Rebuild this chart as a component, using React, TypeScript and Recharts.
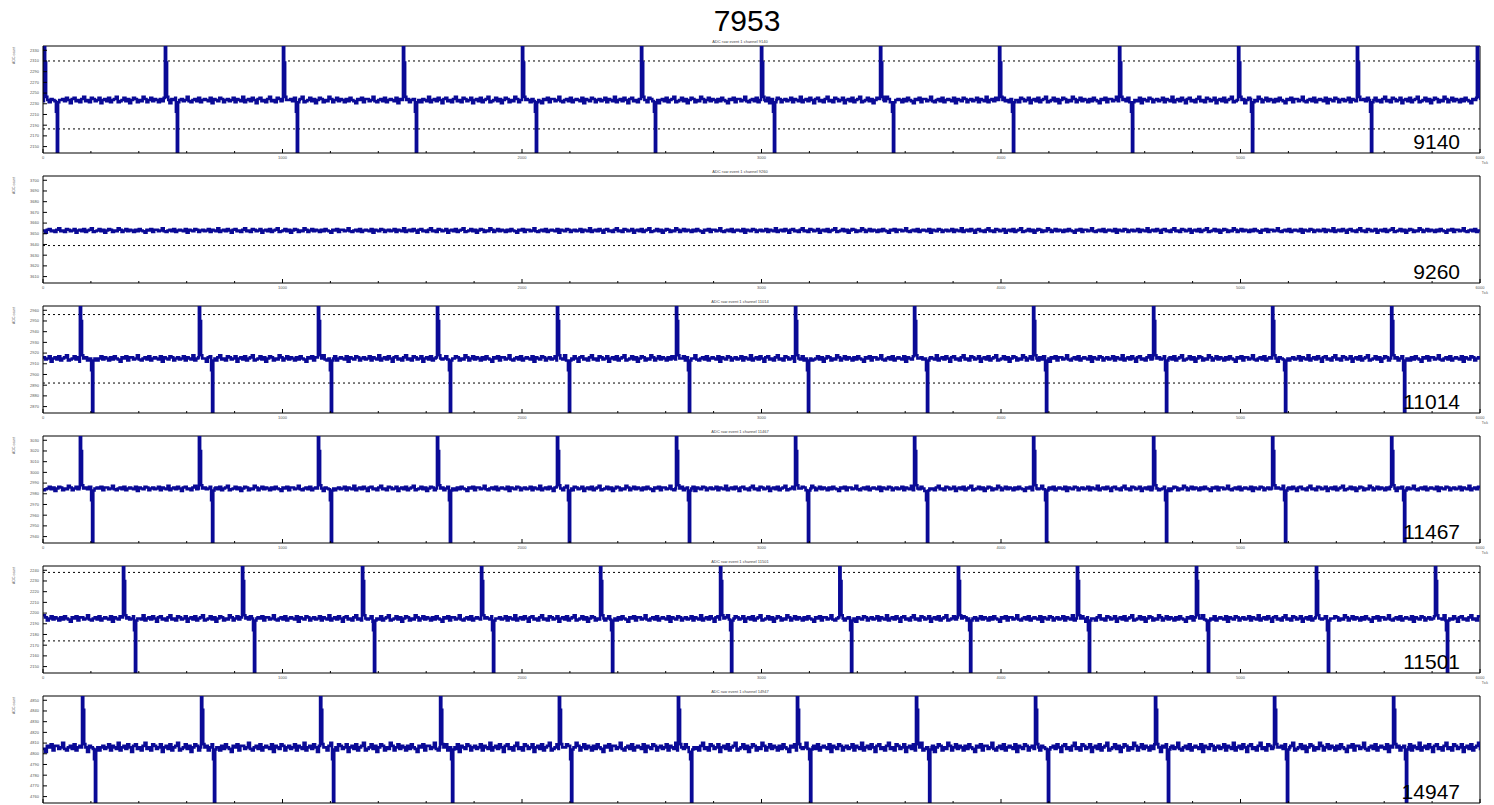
import React from 'react';
import { LineChart, Line, XAxis, YAxis, ReferenceLine } from 'recharts';

const mainTitle = '7953';
const channels = [9140, 9260, 11014, 11467, 11501, 14947];
const panelTops = [46, 176, 306, 436, 566, 696];
const PANEL_H = 107;

const yDomains: [number, number][] = [
  [2138, 2338], [3604, 3704], [2864, 2964], [2934, 3034], [2144, 2244], [4754, 4854],
];
const yTicks = [
  [2150, 2170, 2190, 2210, 2230, 2250, 2270, 2290, 2310, 2330],
  [3610, 3620, 3630, 3640, 3650, 3660, 3670, 3680, 3690, 3700],
  [2870, 2880, 2890, 2900, 2910, 2920, 2930, 2940, 2950, 2960],
  [2940, 2950, 2960, 2970, 2980, 2990, 3000, 3010, 3020, 3030],
  [2150, 2160, 2170, 2180, 2190, 2200, 2210, 2220, 2230, 2240],
  [4760, 4770, 4780, 4790, 4800, 4810, 4820, 4830, 4840, 4850],
];
const baselines = [2237, 3653, 2915, 2985, 2195, 4806];
const noiseScale = [2.0, 0.7, 1.0, 0.8, 1.0, 1.4];
const thresholds = [[2310, 2183], [3639], [2956, 2892], [], [2238, 2174], []];

const upTicks = [
  [4, 509, 1002, 1503, 2000, 2497, 2998, 3495, 3992, 4493, 4990, 5486, 5987],
  [],
  [154, 651, 1148, 1645, 2146, 2643, 3140, 3637, 4134, 4635, 5132, 5629],
  [154, 651, 1148, 1645, 2146, 2643, 3140, 3637, 4134, 4635, 5132, 5629],
  [334, 831, 1332, 1829, 2326, 2827, 3325, 3820, 4317, 4814, 5315, 5812],
  [163, 660, 1157, 1658, 2154, 2651, 3148, 3645, 4142, 4643, 5140, 5637],
];
const downTicks = [
  [58, 559, 1060, 1557, 2058, 2555, 3052, 3549, 4050, 4547, 5048, 5545],
  [],
  [205, 706, 1202, 1699, 2196, 2697, 3194, 3691, 4188, 4689, 5186, 5683],
  [205, 706, 1202, 1699, 2196, 2697, 3194, 3691, 4188, 4689, 5186, 5683],
  [384, 881, 1382, 1879, 2376, 2873, 3374, 3871, 4367, 4864, 5365, 5862],
  [217, 714, 1211, 1708, 2205, 2706, 3203, 3700, 4196, 4697, 5194, 5691],
];

const xMajor = [0, 1000, 2000, 3000, 4000, 5000, 6000];
const xMinor = [200, 400, 600, 800, 1200, 1400, 1600, 1800, 2200, 2400, 2600, 2800,
  3200, 3400, 3600, 3800, 4200, 4400, 4600, 4800, 5200, 5400, 5600, 5800];

// baseline wiggle, in noise steps, one per 8 ticks
const noise = [1, -1, 0, 2, -2, 1, 0, -1, 3, -2, 0, 1, -1, 2, 0, -3, 1, 2, -1, 0,
  -2, 1, 3, -1, 0, -2, 2, 1, -1, 0, 2, -3, 0, 1, -1, 2, -2, 0, 1, 3,
  -2, -1, 0, 2, -1, 1, -3, 0, 2, 1, -2, 0, -1, 3, 1, -2, 0, 2, -1, 1,
  0, -2, 1, -1, 2, 0, -1, -3, 1, 0, 2, -2, 1, 1, -1, 0, 3, -1, -2, 0,
  1, -1, 2, -2, 0, 1, 0, -1, 2, -3, 1, 0, -1, 2, 1, -2, 0];

// pulse shapes: [tick offset, fraction of y range above baseline]
const upShape = [[0, 1], [5, 0.35], [9, 0.03], [14, 0]];
const downShape = [[-4, -0.11], [0, -1], [5, -0.02], [10, 0]];

const LINE = '#0a0a96';
const FONT = '"Liberation Sans", Arial, Helvetica, sans-serif';

function buildSeries(p: number) {
  const [lo, hi] = yDomains[p];
  const span = hi - lo;
  const base = baselines[p];
  const ups = upTicks[p];
  const downs = downTicks[p];
  const pts: { t: number; v: number }[] = [];
  let k = p * 13;
  for (let t = 0; t <= 6000; t += 8) {
    k++;
    const busy = ups.some((u) => t > u - 2 && t < u + 16) || downs.some((d) => t > d - 6 && t < d + 12);
    if (busy) continue;
    pts.push({ t, v: base + noise[k % noise.length] * noiseScale[p] });
  }
  ups.forEach((u) => upShape.forEach(([dt, f]) => pts.push({ t: u + dt, v: base + f * span })));
  downs.forEach((d) => downShape.forEach(([dt, f]) => pts.push({ t: d + dt, v: base + f * span })));
  return pts.sort((a, b) => a.t - b.t);
}

const XTick = (props: any) => {
  const { x, y, payload, showLabel } = props;
  const major = payload.value % 1000 === 0;
  return (
    <g>
      <line x1={x} x2={x} y1={y} y2={y - (major ? 4 : 2)} stroke="#000" strokeWidth={1} />
      {major && showLabel && (
        <text x={x} y={y + 5.5} textAnchor="middle" fontSize={4} fill="#555" fontFamily={FONT}>
          {payload.value}
        </text>
      )}
    </g>
  );
};

const YTick = (props: any) => {
  const { x, y, payload } = props;
  return (
    <g>
      <line x1={x} x2={x + 4} y1={y} y2={y} stroke="#000" strokeWidth={1} />
      <text x={x - 4} y={y + 1.4} textAnchor="end" fontSize={4} fill="#555" fontFamily={FONT}>
        {payload.value}
      </text>
    </g>
  );
};

function Panel({ p }: { p: number }) {
  const data = buildSeries(p);
  const dom = yDomains[p];
  const last = p === channels.length - 1;
  return (
    <div style={{ position: 'absolute', left: 0, top: panelTops[p] - 12 }}>
      <LineChart width={1494} height={12 + PANEL_H + (last ? 2 : 12)} data={data}
        margin={{ top: 12, right: 14, bottom: 0, left: 0 }}>
        <XAxis dataKey="t" type="number" domain={[0, 6000]} allowDataOverflow
          ticks={[...xMajor, ...xMinor].sort((a, b) => a - b)} interval={0}
          tickLine={false} tickSize={0} tickMargin={0}
          tick={(props: any) => <XTick {...props} showLabel={!last} />}
          axisLine={{ stroke: '#000' }} height={last ? 2 : 12} />
        <YAxis type="number" domain={dom} allowDataOverflow ticks={yTicks[p]} interval={0}
          tickLine={false} tickSize={0} tickMargin={0} tick={(props: any) => <YTick {...props} />}
          axisLine={{ stroke: '#000' }} width={43} />
        <ReferenceLine y={dom[1]} stroke="#000" strokeWidth={1} />
        <ReferenceLine x={6000} stroke="#000" strokeWidth={1} />
        {thresholds[p].map((v) => (
          <ReferenceLine key={v} y={v} stroke="#000" strokeWidth={1} strokeDasharray="2 3" />
        ))}
        <Line type="stepAfter" dataKey="v" stroke={LINE} strokeWidth={2.6} dot={false}
          isAnimationActive={false} />
      </LineChart>
    </div>
  );
}

export default function App() {
  return (
    <div style={{ position: 'absolute', left: 0, top: 0, width: 1494, height: 805, background: '#fff', overflow: 'hidden' }}>
      {channels.map((_, p) => <Panel key={p} p={p} />)}
      <svg width={1494} height={805} style={{ position: 'absolute', left: 0, top: 0, pointerEvents: 'none' }}>
        <text x={747} y={31} textAnchor="middle" fontSize={30} fontFamily={FONT} fill="#000">{mainTitle}</text>
        {channels.map((ch, p) => {
          const top = panelTops[p];
          const last = p === channels.length - 1;
          return (
            <g key={ch}>
              <text x={740} y={top - 3} textAnchor="middle" fontSize={4} fill="#444" fontFamily={FONT}>
                {`ADC raw event 1 channel ${ch}`}
              </text>
              <text transform={`translate(15, ${top + 1}) rotate(-90)`} textAnchor="end" fontSize={3.5}
                fill="#555" fontFamily={FONT}>ADC count</text>
              <text x={1460} y={top + PANEL_H - 4} textAnchor="end" fontSize={21} fill="#000" fontFamily={FONT}>
                {ch}
              </text>
              {!last && (
                <text x={1488} y={top + PANEL_H + 11} textAnchor="end" fontSize={3.5} fill="#555" fontFamily={FONT}>
                  Tick
                </text>
              )}
            </g>
          );
        })}
      </svg>
    </div>
  );
}
